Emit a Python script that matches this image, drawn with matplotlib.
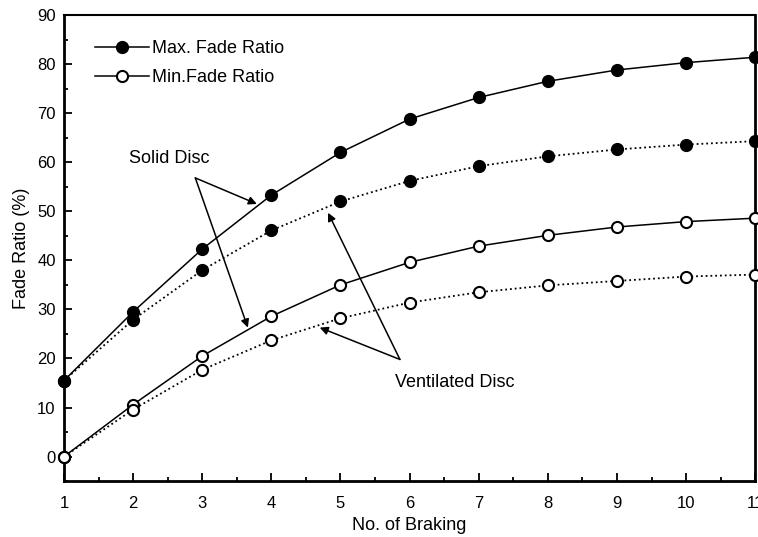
import matplotlib
matplotlib.use('Agg')
import matplotlib.pyplot as plt
from matplotlib.ticker import MultipleLocator

plt.rcParams['font.family'] = ['Liberation Sans', 'DejaVu Sans']

braking = [1, 2, 3, 4, 5, 6, 7, 8, 9, 10, 11]
# solid disc
solid_max = [15.5, 29.5, 42.3, 53.3, 62.0, 68.8, 73.2, 76.5, 78.8, 80.3, 81.4]
solid_min = [0.0, 10.6, 20.5, 28.6, 35.0, 39.6, 42.9, 45.1, 46.8, 47.9, 48.6]
# ventilated disc
vent_max = [15.5, 27.9, 38.0, 46.1, 52.0, 56.2, 59.2, 61.2, 62.6, 63.6, 64.3]
vent_min = [0.0, 9.6, 17.7, 23.7, 28.2, 31.4, 33.5, 34.9, 35.8, 36.7, 37.1]

fig = plt.figure(figsize=(7.58, 5.37), dpi=100)
ax = fig.add_axes([0.0844, 0.104, 0.912, 0.868])

ms = 8.5
ax.plot(braking, solid_max, '-', color='black', lw=1.1, marker='o', ms=ms,
        mfc='black', mec='black', label='Max. Fade Ratio', clip_on=False, zorder=3)
ax.plot(braking, solid_min, '-', color='black', lw=1.1, marker='o', ms=ms - 0.5,
        mfc='white', mec='black', mew=1.5, label='Min.Fade Ratio', clip_on=False, zorder=3)
ax.plot(braking, vent_max, ':', color='black', lw=1.3, marker='o', ms=ms,
        mfc='black', mec='black', clip_on=False, zorder=3)
ax.plot(braking, vent_min, ':', color='black', lw=1.3, marker='o', ms=ms - 0.5,
        mfc='white', mec='black', mew=1.5, clip_on=False, zorder=3)

ax.set_xlim(1, 11)
ax.set_ylim(-5, 90)
ax.set_xticks(braking)
ax.xaxis.set_minor_locator(MultipleLocator(0.5))
ax.yaxis.set_major_locator(MultipleLocator(10))
ax.yaxis.set_minor_locator(MultipleLocator(5))
ax.tick_params(which='both', direction='in', top=False, right=False,
               labelsize=12, width=1.3)
ax.tick_params(which='major', length=6, pad=11)
ax.tick_params(which='minor', length=3)
ax.tick_params(axis='y', pad=6)

for side in ['left', 'bottom', 'right']:
    ax.spines[side].set_linewidth(2.0)
ax.spines['top'].set_linewidth(1.5)

ax.set_xlabel('No. of Braking', fontsize=13, labelpad=4)
ax.set_ylabel('Fade Ratio (%)', fontsize=13, labelpad=5)

ax.legend(loc='upper left', frameon=False, fontsize=13, handlelength=3.0,
          handletextpad=0.15, borderaxespad=0.0, labelspacing=0.65,
          borderpad=0.0, bbox_to_anchor=(0.045, 0.946))

arrow = dict(arrowstyle='-|>', color='black', lw=1.1, mutation_scale=12,
             shrinkA=0, shrinkB=0)
ax.text(2.53, 60.7, 'Solid Disc', ha='center', va='center', fontsize=13)
ax.annotate('', xy=(3.79, 51.5), xytext=(2.9, 56.8), arrowprops=arrow)
ax.annotate('', xy=(3.66, 26.3), xytext=(2.9, 56.8), arrowprops=arrow)

ax.text(6.66, 15.1, 'Ventilated Disc', ha='center', va='center', fontsize=13)
ax.annotate('', xy=(4.82, 49.7), xytext=(5.86, 19.8), arrowprops=arrow)
ax.annotate('', xy=(4.70, 26.3), xytext=(5.86, 19.8), arrowprops=arrow)

fig.savefig('out.png', dpi=100)
